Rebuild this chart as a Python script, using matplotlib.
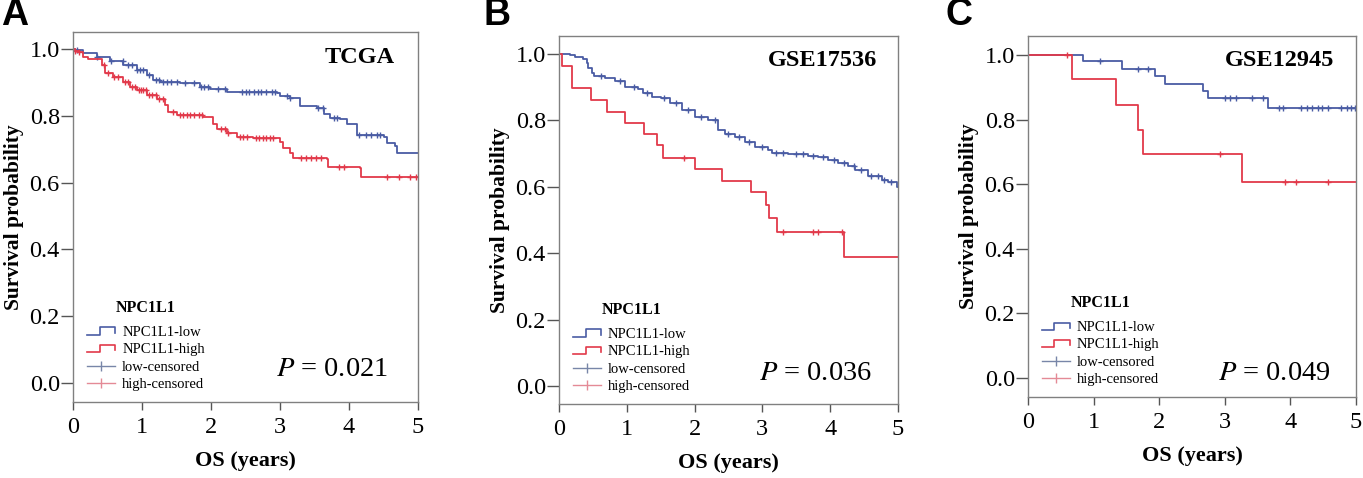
import numpy as np
import matplotlib
matplotlib.use("Agg")
import matplotlib.pyplot as plt
from matplotlib.lines import Line2D
from matplotlib.legend_handler import HandlerBase

plt.rcParams['font.family'] = ['Liberation Serif', 'DejaVu Serif']

# ---- data ----
# panel A, TCGA
a_low_t = [0, 0.03, 0.15, 0.34, 0.54, 0.73, 0.92, 1.07, 1.16, 1.26, 1.55, 1.84, 1.99, 2.23,
           2.95, 3.00, 3.14, 3.29, 3.53, 3.63, 3.72, 3.87, 3.97, 4.11, 4.50, 4.55, 4.67, 4.69]
a_low_s = [1.0, 0.997, 0.987, 0.977, 0.965, 0.952, 0.937, 0.922, 0.907, 0.902, 0.897, 0.887,
           0.879, 0.872, 0.869, 0.859, 0.852, 0.829, 0.822, 0.805, 0.795, 0.791, 0.775, 0.743,
           0.736, 0.718, 0.710, 0.690]
a_high_t = [0, 0.03, 0.08, 0.15, 0.22, 0.42, 0.46, 0.58, 0.73, 0.83, 0.92, 1.07, 1.21, 1.33,
            1.38, 1.50, 1.89, 2.03, 2.08, 2.23, 2.37, 2.61, 3.00, 3.05, 3.14, 3.19, 3.68, 3.70,
            4.16, 4.18]
a_high_s = [1.0, 0.995, 0.992, 0.977, 0.969, 0.952, 0.927, 0.915, 0.902, 0.887, 0.877, 0.862,
            0.849, 0.832, 0.812, 0.802, 0.797, 0.777, 0.762, 0.748, 0.738, 0.733, 0.723, 0.703,
            0.688, 0.673, 0.670, 0.648, 0.643, 0.618]
a_low_cens = [0.05, 0.35, 0.55, 0.72, 0.80, 0.86, 0.92, 0.97, 1.02, 1.10, 1.20, 1.25, 1.30, 1.36,
              1.42, 1.50, 1.62, 1.75, 1.86, 1.90, 1.96, 2.10, 2.20, 2.45, 2.50, 2.55, 2.62, 2.68,
              2.72, 2.80, 2.88, 2.93, 3.10, 3.15, 3.55, 3.62, 3.78, 3.82, 4.15, 4.25, 4.32, 4.40,
              4.45]
a_high_cens = [0.03, 0.08, 0.45, 0.50, 0.60, 0.65, 0.75, 0.80, 0.85, 0.90, 0.95, 0.98, 1.02, 1.06,
               1.10, 1.15, 1.20, 1.25, 1.30, 1.45, 1.55, 1.60, 1.65, 1.70, 1.75, 1.82, 1.87, 2.15,
               2.20, 2.25, 2.42, 2.47, 2.52, 2.65, 2.70, 2.75, 2.80, 2.85, 2.90, 3.30, 3.38, 3.45,
               3.52, 3.60, 3.85, 3.93, 4.55, 4.72, 4.88, 4.97]

# panel B, GSE17536
b_low_t = [0, 0.16, 0.24, 0.36, 0.41, 0.43, 0.48, 0.52, 0.68, 0.83, 0.97, 1.17, 1.24, 1.37, 1.51,
           1.64, 1.81, 2.01, 2.20, 2.35, 2.45, 2.60, 2.74, 2.89, 3.09, 3.14, 3.38, 3.68, 3.82,
           3.97, 4.12, 4.27, 4.37, 4.56, 4.76, 4.86, 4.98]
b_low_s = [1.0, 0.997, 0.992, 0.985, 0.972, 0.957, 0.942, 0.932, 0.927, 0.917, 0.899, 0.895,
           0.882, 0.871, 0.866, 0.851, 0.831, 0.811, 0.801, 0.771, 0.758, 0.751, 0.736, 0.721,
           0.711, 0.701, 0.698, 0.694, 0.691, 0.681, 0.671, 0.661, 0.651, 0.631, 0.620, 0.613,
           0.600]
b_high_t = [0, 0.05, 0.19, 0.47, 0.71, 0.97, 1.26, 1.45, 1.53, 2.00, 2.41, 2.83, 3.05, 3.10,
            3.21, 4.21]
b_high_s = [1.0, 0.965, 0.897, 0.861, 0.826, 0.791, 0.758, 0.726, 0.688, 0.654, 0.617, 0.583,
            0.545, 0.505, 0.463, 0.390]
b_low_cens = [0.62, 0.90, 1.10, 1.30, 1.55, 1.72, 1.90, 2.10, 2.30, 2.50, 2.65, 2.80, 3.00, 3.20,
              3.30, 3.50, 3.60, 3.75, 3.90, 4.05, 4.20, 4.35, 4.45, 4.60, 4.70, 4.80, 4.90]
b_high_cens = [1.85, 3.30, 3.75, 3.82, 4.18]

# panel C, GSE12945
c_low_t = [0, 0.84, 1.43, 1.93, 2.09, 2.67, 2.75, 3.66]
c_low_s = [1.0, 0.981, 0.957, 0.935, 0.912, 0.890, 0.868, 0.837]
c_high_t = [0, 0.675, 1.34, 1.67, 1.76, 3.26]
c_high_s = [1.0, 0.926, 0.845, 0.768, 0.693, 0.606]
c_low_cens = [1.10, 1.67, 1.83, 3.00, 3.08, 3.17, 3.41, 3.59, 3.82, 3.89, 4.17, 4.25, 4.33, 4.42,
              4.49, 4.58, 4.78, 4.86, 4.92, 4.99]
c_high_cens = [0.59, 2.93, 3.92, 4.08, 4.58]

panel_names = ["TCGA", "GSE17536", "GSE12945"]
p_values = ["0.021", "0.036", "0.049"]
letters = ["A", "B", "C"]
legend_labels = ["NPC1L1-low", "NPC1L1-high", "low-censored", "high-censored"]

BLUE = "#4a5ca4"
RED = "#e2394a"
BLUE_LIGHT = "#7886a8"
RED_LIGHT = "#e48a96"


class StepHandler(HandlerBase):
    def create_artists(self, legend, orig, xd, yd, w, h, fontsize, trans):
        xs = [xd, xd + 0.45 * w, xd + 0.45 * w, xd + w, xd + w]
        ys = [yd + 0.15 * h, yd + 0.15 * h, yd + 0.85 * h, yd + 0.85 * h, yd + 0.3 * h]
        ln = Line2D(xs, ys, color=orig.get_color(), lw=orig.get_linewidth(), transform=trans)
        return [ln]


def km(ax, t, s, cens, color):
    t = np.append(t, 5.0)
    s = np.append(s, s[-1])
    ax.step(t, s, where="post", color=color, lw=1.3)
    idx = np.searchsorted(t, cens, side="right") - 1
    ax.plot(cens, s[idx], ls="none", marker="+", ms=5, mew=1.0, color=color)


datasets = [
    (a_low_t, a_low_s, a_low_cens, a_high_t, a_high_s, a_high_cens),
    (b_low_t, b_low_s, b_low_cens, b_high_t, b_high_s, b_high_cens),
    (c_low_t, c_low_s, c_low_cens, c_high_t, c_high_s, c_high_cens),
]

fig = plt.figure(figsize=(13.63, 4.78), dpi=100)

boxes = [[0.0536, 0.159, 0.2531, 0.774],
         [0.4101, 0.1548, 0.2487, 0.770],
         [0.7542, 0.1695, 0.2406, 0.755]]
ylims = [(-0.057, 1.051), (-0.054, 1.054), (-0.059, 1.059)]
title_pos = [(0.933, 0.932), (0.938, 0.932), (0.933, 0.931)]
p_pos = [(0.913, 0.089), (0.923, 0.082), (0.924, 0.066)]
letter_pos = [(0.001, 0.93), (0.355, 0.93), (0.694, 0.93)]

for i in range(3):
    ax = fig.add_axes(boxes[i])
    lt, ls_, lc, ht, hs, hc = datasets[i]
    km(ax, lt, ls_, lc, BLUE)
    km(ax, ht, hs, hc, RED)
    ax.set_xlim(0, 5)
    ax.set_ylim(*ylims[i])
    ax.set_xticks(range(6))
    ax.set_yticks(np.arange(0, 1.01, 0.2))
    ax.set_yticklabels(["%.1f" % v for v in np.arange(0, 1.01, 0.2)])
    for sp in ax.spines.values():
        sp.set_color("#808080")
        sp.set_linewidth(1.0)
    ax.tick_params(axis="y", length=8.5, width=1.0, color="#555555", labelsize=17.5, pad=1)
    ax.tick_params(axis="x", length=6, width=1.0, color="#555555", labelsize=17.5, pad=5)
    ax.set_xlabel("OS (years)", fontsize=16, fontweight="bold", labelpad=9)
    ax.set_ylabel("Survival probability", fontsize=15.5, fontweight="bold", labelpad=4)
    ax.text(*title_pos[i], panel_names[i], transform=ax.transAxes, ha="right", va="center",
            fontsize=17.5, fontweight="bold")
    ax.text(*p_pos[i], r"$P$ = " + p_values[i], transform=ax.transAxes, ha="right",
            va="center", fontsize=20.5, math_fontfamily="stix")

    handles = [Line2D([], [], color=BLUE, lw=1.2), Line2D([], [], color=RED, lw=1.2),
               Line2D([], [], color=BLUE_LIGHT, lw=1.0, marker="|", ms=7),
               Line2D([], [], color=RED_LIGHT, lw=1.0, marker="|", ms=7)]
    leg = ax.legend(handles, legend_labels, title="NPC1L1", loc="lower left",
                    bbox_to_anchor=(0.02, 0.01), frameon=False, fontsize=10.5,
                    title_fontproperties={"weight": "bold", "size": 11.5},
                    handlelength=1.9, handletextpad=0.5, labelspacing=0.28, borderpad=0,
                    handler_map={handles[0]: StepHandler(), handles[1]: StepHandler()})
    leg._legend_box.sep = 7

    fig.text(*letter_pos[i], letters[i], fontsize=27, fontweight="bold",
             family=["Liberation Sans", "DejaVu Sans"], ha="left", va="bottom")

fig.savefig("out.png", dpi=100)
